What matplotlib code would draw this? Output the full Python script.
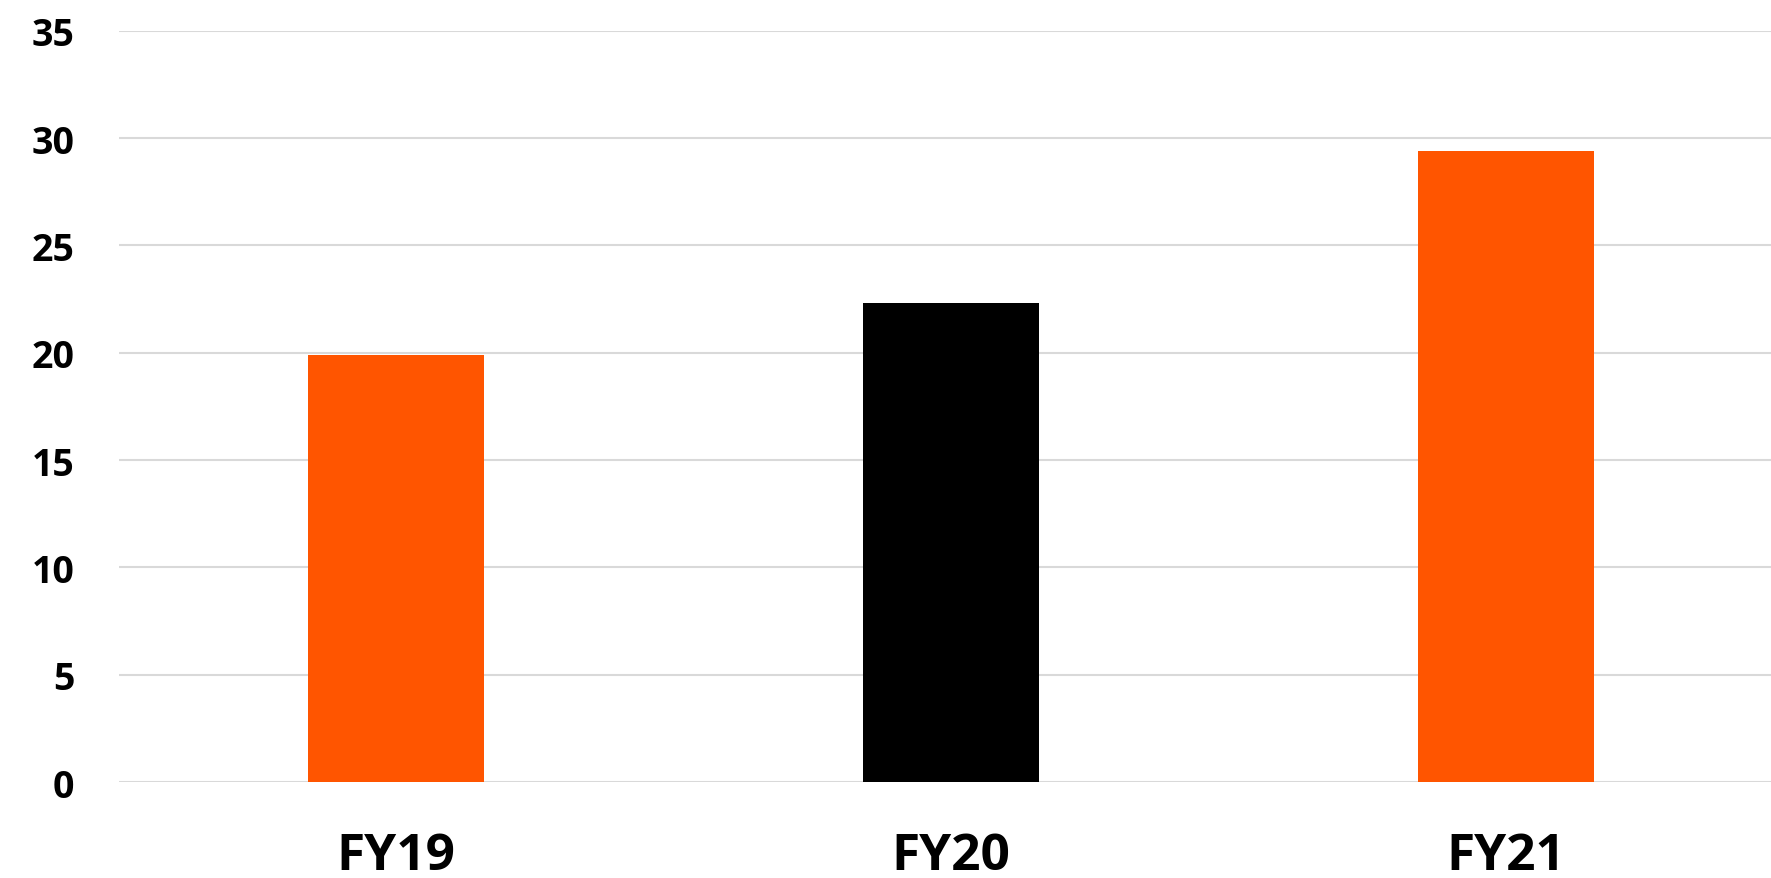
import matplotlib.pyplot as plt

# data
years = ['FY19', 'FY20', 'FY21']
values = [19.9, 22.3, 29.4]
bar_colors = ['#FF5500', '#000000', '#FF5500']
yticks = [0, 5, 10, 15, 20, 25, 30, 35]

plt.rcParams['font.family'] = ['Open Sans', 'DejaVu Sans']
plt.rcParams['font.weight'] = 'bold'

fig = plt.figure(figsize=(17.71, 8.79), dpi=100)
ax = fig.add_axes([0.067, 0.109, 0.94, 0.855])

x = range(len(years))
ax.bar(x, values, width=0.316, color=bar_colors, zorder=3)

ax.set_xlim(-0.5, 2.5)
ax.set_ylim(0, 35)
ax.set_yticks(yticks)
ax.set_xticks(list(x))
ax.set_xticklabels(years, fontweight='bold')
ax.set_yticklabels([str(v) for v in yticks], fontweight='bold')

ax.grid(axis='y', color='#d9d9d9', linewidth=1.5, zorder=0)
for s in ax.spines.values():
    s.set_visible(False)

ax.tick_params(axis='y', length=0, pad=32, labelsize=27)
ax.tick_params(axis='x', length=0, pad=35, labelsize=37)

fig.savefig('out.png', dpi=100)
